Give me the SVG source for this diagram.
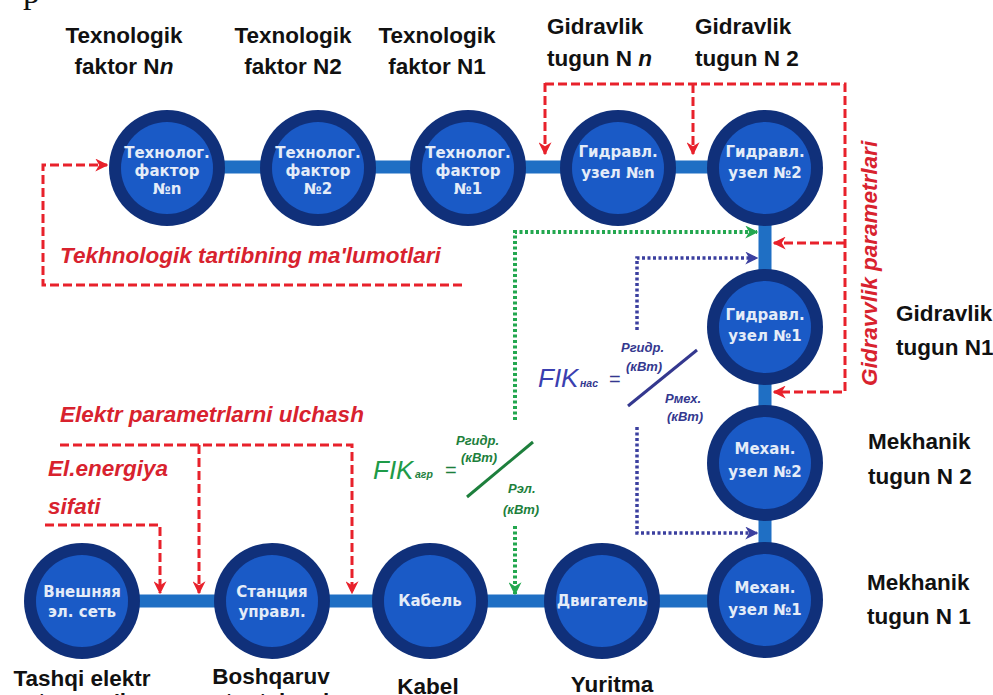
<svg xmlns="http://www.w3.org/2000/svg" width="993" height="695" viewBox="0 0 993 695">
<defs>
  <marker id="arR" viewBox="0 0 10 10" refX="9" refY="5" markerWidth="13" markerHeight="13" markerUnits="userSpaceOnUse" orient="auto">
    <path d="M0,0 L10,5 L0,10 L3,5 z" fill="#e8212b"/>
  </marker>
  <marker id="arG" viewBox="0 0 10 10" refX="9" refY="5" markerWidth="13" markerHeight="13" markerUnits="userSpaceOnUse" orient="auto">
    <path d="M0,0 L10,5 L0,10 L3,5 z" fill="#23a74f"/>
  </marker>
  <marker id="arB" viewBox="0 0 10 10" refX="9" refY="5" markerWidth="13" markerHeight="13" markerUnits="userSpaceOnUse" orient="auto">
    <path d="M0,0 L10,5 L0,10 L3,5 z" fill="#3b3f9f"/>
  </marker>
</defs>
<style>
  .bar{stroke:#1f6fc4;stroke-width:13;fill:none}
  .ring{fill:#10307a}
  .core{fill:#1a5ac6}
  .nt{font-family:"DejaVu Sans",sans-serif;font-weight:bold;font-size:15px;fill:#e4ecf8;text-anchor:middle}
  .lb{font-family:"Liberation Sans",Arial,sans-serif;font-weight:bold;font-size:22.5px;fill:#111}
  .lbm{text-anchor:middle}
  .rl{font-family:"Liberation Sans",Arial,sans-serif;font-weight:bold;font-style:italic;font-size:22.5px;fill:#d8222e}
  .rd{stroke:#e8212b;stroke-width:3;fill:none;stroke-dasharray:9 4}
  .gd{stroke:#23a74f;stroke-width:4;fill:none;stroke-dasharray:3 2.5}
  .bd{stroke:#3b3f9f;stroke-width:3.5;fill:none;stroke-dasharray:3 2.5}
  .fk{font-family:"Liberation Sans",Arial,sans-serif;font-style:italic;font-size:26px}
  .sub{font-family:"Liberation Sans",Arial,sans-serif;font-style:italic;font-weight:bold;font-size:10.5px}
  .fr{font-family:"Liberation Sans",Arial,sans-serif;font-style:italic;font-weight:bold;font-size:13px}
  .eq{font-family:"Liberation Sans",Arial,sans-serif;font-size:20px}
  .green{fill:#1e9b48}
  .dgreen{fill:#1d7f3c}
  .blue{fill:#3a3fb0}
  .dblue{fill:#34388f}
</style>

<text x="23" y="3" font-family="Liberation Serif, serif" font-size="34" fill="#111">p</text>

<!-- connectors -->
<g id="connectors">
  <path class="bar" d="M167,167 H765 V601 H82"/>
  <!-- red dashed -->
  <path class="rd" d="M462,285 H43 V165 H107" marker-end="url(#arR)"/>
  <path class="rd" d="M545,83 V154" marker-end="url(#arR)"/>
  <path class="rd" d="M545,84 H845 V392 H774" marker-end="url(#arR)"/>
  <path class="rd" d="M693,84 V154" marker-end="url(#arR)"/>
  <path class="rd" d="M845,243 H774" marker-end="url(#arR)"/>
  <path class="rd" d="M60,445 H352 V593" marker-end="url(#arR)"/>
  <path class="rd" d="M199,445 V593" marker-end="url(#arR)"/>
  <path class="rd" d="M45,525 H160 V593" marker-end="url(#arR)"/>
  <!-- green dotted -->
  <path class="gd" d="M515,420 V232 H757" marker-end="url(#arG)"/>
  <path class="gd" d="M515,526 V594" marker-end="url(#arG)"/>
  <!-- blue dotted -->
  <path class="bd" d="M637,330 V258 H757" marker-end="url(#arB)"/>
  <path class="bd" d="M637,427 V533 H757" marker-end="url(#arB)"/>
</g>

<!-- nodes -->
<g id="tf-n"><circle class="ring" cx="167" cy="168" r="58"/><circle class="core" cx="167" cy="168" r="46"/>
  <text class="nt" x="167" y="158">Технолог.</text><text class="nt" x="167" y="176">фактор</text><text class="nt" x="167" y="194">№n</text></g>
<g id="tf-2"><circle class="ring" cx="318" cy="168" r="58"/><circle class="core" cx="318" cy="168" r="46"/>
  <text class="nt" x="318" y="158">Технолог.</text><text class="nt" x="318" y="176">фактор</text><text class="nt" x="318" y="194">№2</text></g>
<g id="tf-1"><circle class="ring" cx="468" cy="168" r="58"/><circle class="core" cx="468" cy="168" r="46"/>
  <text class="nt" x="468" y="158">Технолог.</text><text class="nt" x="468" y="176">фактор</text><text class="nt" x="468" y="194">№1</text></g>
<g id="gu-n"><circle class="ring" cx="618" cy="168" r="58"/><circle class="core" cx="618" cy="168" r="46"/>
  <text class="nt" x="618" y="157">Гидравл.</text><text class="nt" x="618" y="178">узел №n</text></g>
<g id="gu-2"><circle class="ring" cx="765" cy="168" r="58"/><circle class="core" cx="765" cy="168" r="46"/>
  <text class="nt" x="765" y="157">Гидравл.</text><text class="nt" x="765" y="178">узел №2</text></g>
<g id="gu-1"><circle class="ring" cx="765" cy="327" r="58"/><circle class="core" cx="765" cy="327" r="46"/>
  <text class="nt" x="765" y="320">Гидравл.</text><text class="nt" x="765" y="341">узел №1</text></g>
<g id="mu-2"><circle class="ring" cx="765" cy="463" r="58"/><circle class="core" cx="765" cy="463" r="46"/>
  <text class="nt" x="765" y="454">Механ.</text><text class="nt" x="765" y="477">узел №2</text></g>
<g id="mu-1"><circle class="ring" cx="765" cy="600" r="58"/><circle class="core" cx="765" cy="600" r="46"/>
  <text class="nt" x="765" y="593">Механ.</text><text class="nt" x="765" y="615">узел №1</text></g>
<g id="dvig"><circle class="ring" cx="602" cy="601" r="58"/><circle class="core" cx="602" cy="601" r="46"/>
  <text class="nt" x="602" y="606">Двигатель</text></g>
<g id="kabel"><circle class="ring" cx="430" cy="601" r="58"/><circle class="core" cx="430" cy="601" r="46"/>
  <text class="nt" x="430" y="606">Кабель</text></g>
<g id="stanc"><circle class="ring" cx="272" cy="601" r="58"/><circle class="core" cx="272" cy="601" r="46"/>
  <text class="nt" x="272" y="597">Станция</text><text class="nt" x="272" y="617">управл.</text></g>
<g id="vnesh"><circle class="ring" cx="82" cy="601" r="58"/><circle class="core" cx="82" cy="601" r="46"/>
  <text class="nt" x="82" y="597">Внешняя</text><text class="nt" x="82" y="617">эл. сеть</text></g>

<!-- black labels -->
<g class="lb">
  <text class="lbm" x="124" y="43">Texnologik</text>
  <text class="lbm" x="124" y="74">faktor N<tspan font-style="italic">n</tspan></text>
  <text class="lbm" x="293" y="43">Texnologik</text>
  <text class="lbm" x="293" y="74">faktor N2</text>
  <text class="lbm" x="437" y="43">Texnologik</text>
  <text class="lbm" x="437" y="74">faktor N1</text>
  <text x="547" y="34">Gidravlik</text>
  <text x="547" y="66">tugun N <tspan font-style="italic">n</tspan></text>
  <text x="695" y="34">Gidravlik</text>
  <text x="695" y="66">tugun N 2</text>
  <text x="896" y="321">Gidravlik</text>
  <text x="896" y="355">tugun N1</text>
  <text x="868" y="449">Mekhanik</text>
  <text x="868" y="484">tugun N 2</text>
  <text x="867" y="590">Mekhanik</text>
  <text x="867" y="624">tugun N 1</text>
  <text class="lbm" x="82" y="686">Tashqi elektr</text>
  <text class="lbm" x="82" y="709">tarmog'i</text>
  <text class="lbm" x="271" y="684">Boshqaruv</text>
  <text class="lbm" x="271" y="709">stantsiyasi</text>
  <text class="lbm" x="428" y="694">Kabel</text>
  <text class="lbm" x="612" y="692">Yuritma</text>
</g>

<!-- red labels -->
<g class="rl">
  <text x="60" y="263">Tekhnologik tartibning ma'lumotlari</text>
  <text x="60" y="422">Elektr parametrlarni ulchash</text>
  <text x="48" y="476">El.energiya</text>
  <text x="48" y="514">sifati</text>
  <text transform="translate(877,386) rotate(-90)">Gidravvlik parametrlari</text>
</g>

<!-- green formula -->
<g id="fik-agr">
  <text class="fk green" x="373" y="479">FIK</text>
  <text class="sub dgreen" x="415" y="478">агр</text>
  <text class="eq dgreen" x="445" y="477">=</text>
  <text class="fr dgreen" x="456" y="445">Pгидр.</text>
  <text class="fr dgreen" x="461" y="462">(кВт)</text>
  <line x1="467" y1="497" x2="533" y2="442" stroke="#1d7f3c" stroke-width="3"/>
  <text class="fr dgreen" x="508" y="493">Рэл.</text>
  <text class="fr dgreen" x="503" y="514">(кВт)</text>
</g>

<!-- blue formula -->
<g id="fik-nas">
  <text class="fk blue" x="538" y="387">FIK</text>
  <text class="sub dblue" x="580" y="387">нас</text>
  <text class="eq dblue" x="609" y="386">=</text>
  <text class="fr dblue" x="621" y="352">Pгидр.</text>
  <text class="fr dblue" x="626" y="371">(кВт)</text>
  <line x1="628" y1="406" x2="697" y2="350" stroke="#34388f" stroke-width="3"/>
  <text class="fr dblue" x="665" y="403">Pмех.</text>
  <text class="fr dblue" x="667" y="421">(кВт)</text>
</g>
</svg>
